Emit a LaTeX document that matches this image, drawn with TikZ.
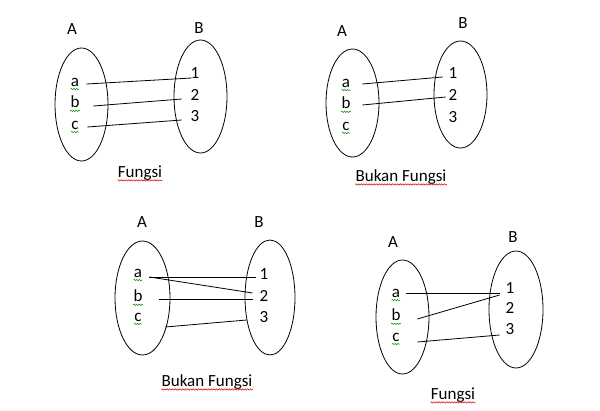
\documentclass[tikz,border=0pt]{standalone}
\usepackage{fontspec}
\setmainfont{Carlito}
\usetikzlibrary{decorations.pathmorphing}

\begin{document}
\begin{tikzpicture}[x=1pt, y=-1pt, line width=0.8pt,
  every node/.style={font=\fontsize{17}{19}\selectfont, inner sep=0pt},
  spellok/.style={decorate, decoration={snake, amplitude=0.7pt, segment length=2.6pt}, line width=0.5pt, green!55!black},
  spellbad/.style={spellok, red!85!black}]
\useasboundingbox (0,0) rectangle (600,410);
% fungsi (atas kiri)
\node (A1) at (72,29) {A}; \node (B1) at (199,28) {B};
\draw (81.5,104.5) ellipse [x radius=26.5, y radius=56.5];
\draw (200.5,96.5) ellipse [x radius=26.5, y radius=56.5];
\foreach \n/\t/\y in {a1/a/82, b1/b/102, c1/c/125} { \node (\n) at (75,\y) {\t}; }
\foreach \n/\t/\y in {one1/1/73, two1/2/95, three1/3/116} { \node (\n) at (195,\y) {\t}; }
\draw ([xshift=7,yshift=-2]a1.east) -- ([xshift=1.3,yshift=-5]one1.west);
\draw ([xshift=13.5,yshift=-4]b1.east) -- ([xshift=-8.7,yshift=-4]two1.west);
\draw ([xshift=8.4,yshift=-2]c1.east) -- ([xshift=-8.7,yshift=-4]three1.west);
\node (t1) at (140,173) {Fungsi};
% bukan fungsi (atas kanan)
\node (A2) at (342,31) {A}; \node (B2) at (463,23) {B};
\draw (352.5,103) ellipse [x radius=26.5, y radius=54];
\draw (460.5,94.5) ellipse [x radius=26.5, y radius=53.5];
\foreach \n/\t/\y in {a2/a/83, b2/b/103, c2/c/126} { \node (\n) at (346,\y) {\t}; }
\foreach \n/\t/\y in {one2/1/73, two2/2/95, three2/3/117} { \node (\n) at (453,\y) {\t}; }
\draw ([xshift=12,yshift=-1]a2.east) -- ([xshift=-5.7,yshift=-4]one2.west);
\draw ([xshift=11.5,yshift=-2]b2.east) -- ([xshift=-2.7,yshift=-2]two2.west);
\node (t2) at (401,177) {Bukan Fungsi};
% bukan fungsi (bawah kiri)
\node (A3) at (142,222) {A}; \node (B3) at (259,222) {B};
\draw (142.5,298) ellipse [x radius=27.5, y radius=57];
\draw (270,297.5) ellipse [x radius=25, y radius=57.5];
\foreach \n/\t/\y in {a3/a/273, b3/b/296, c3/c/317} { \node (\n) at (138,\y) {\t}; }
\foreach \n/\t/\y in {one3/1/274, two3/2/296, three3/3/317} { \node (\n) at (264,\y) {\t}; }
\draw ([xshift=7,yshift=-4]a3.east) -- ([xshift=-3.7,yshift=-3]one3.west);
\draw ([xshift=7,yshift=-4]a3.east) -- ([xshift=-6.7,yshift=3]two3.west);
\draw ([xshift=16.5,yshift=-3]b3.east) -- ([xshift=-6.7,yshift=-3]two3.west);
\draw ([xshift=23.4,yshift=-10]c3.east) -- ([xshift=-12.7,yshift=-3]three3.west);
\node (t3) at (207,382) {Bukan Fungsi};
% fungsi (bawah kanan)
\node (A4) at (393,242) {A}; \node (B4) at (513,237) {B};
\draw (402.5,317) ellipse [x radius=26.5, y radius=57];
\draw (516,309.5) ellipse [x radius=27, y radius=58.5];
\foreach \n/\t/\y in {a4/a/293, b4/b/315, c4/c/337} { \node (\n) at (396,\y) {\t}; }
\foreach \n/\t/\y in {one4/1/288, two4/2/308, three4/3/329} { \node (\n) at (510,\y) {\t}; }
\draw ([xshift=6]a4.east) -- ([xshift=-5.7,yshift=-5]one4.west);
\draw ([xshift=16.5,yshift=-4]b4.east) -- ([xshift=-5.7,yshift=-7]one4.west);
\draw ([xshift=17.4,yshift=-5]c4.east) -- ([xshift=-5.7,yshift=-6]three4.west);
\node (t4) at (453,395) {Fungsi};
% garis ejaan
\foreach \n in {a1,b1,c1,a2,b2,c2,a3,b3,c3,a4,b4,c4} { \draw[spellok] ([yshift=-3]\n.base west) -- ([yshift=-3]\n.base east); }
\foreach \n in {t1,t2,t3,t4} { \draw[spellbad] ([yshift=-3]\n.base west) -- ([yshift=-3]\n.base east); }
\end{tikzpicture}
\end{document}
